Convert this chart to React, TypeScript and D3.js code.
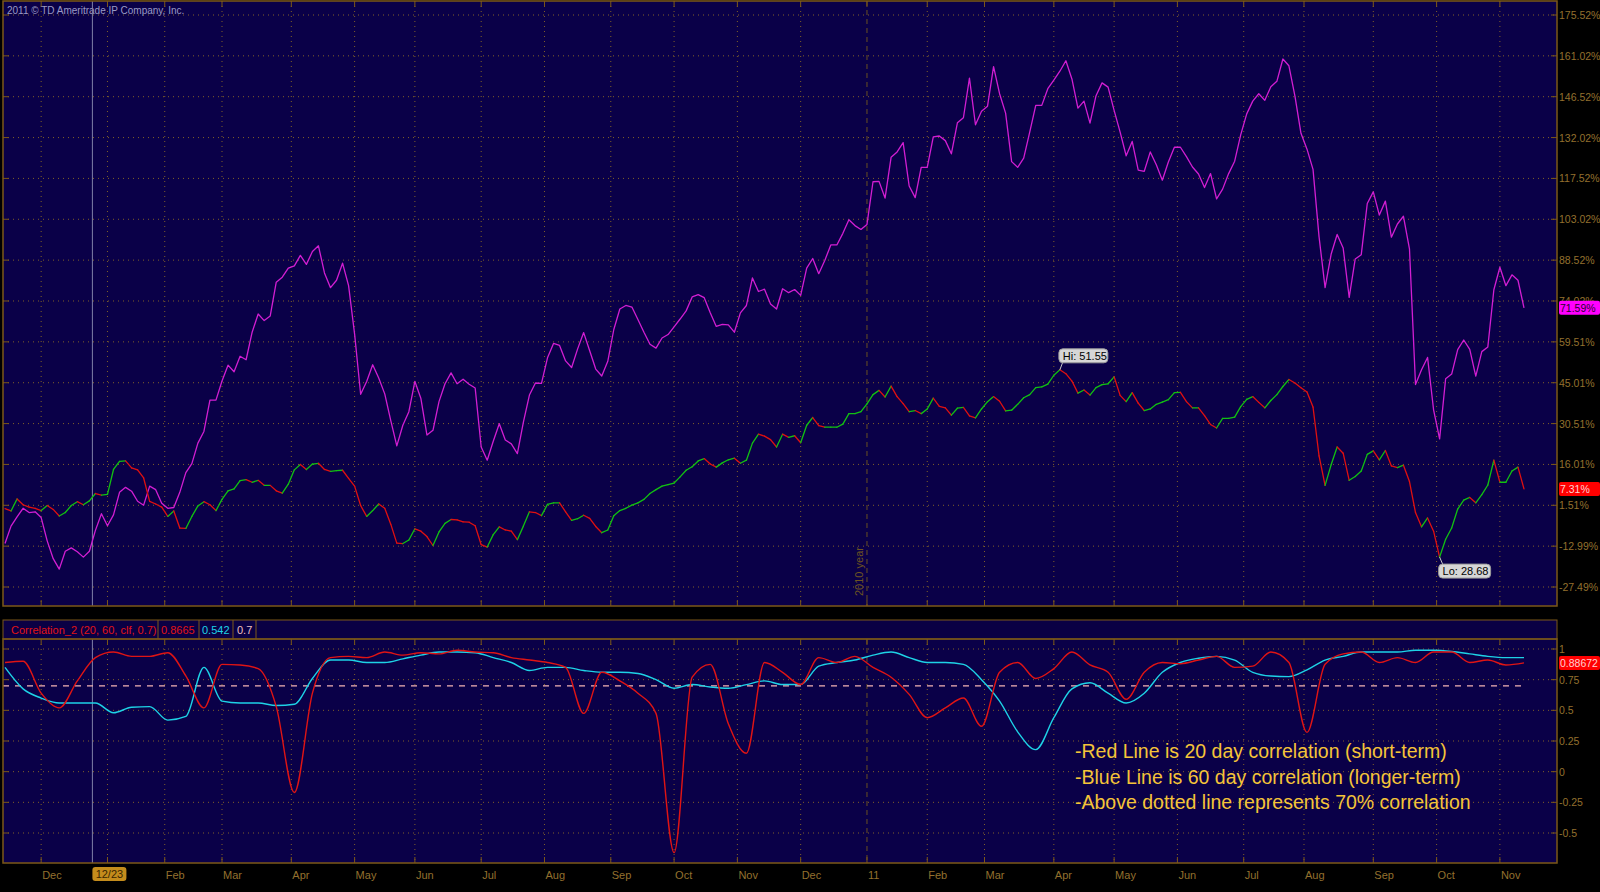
import * as d3 from "d3"

// trading calendar (NYSE holidays inside the window)
const firstSession = "2009-11-12"
const holidays = [
  "2009-11-26", "2009-12-25", "2010-01-01", "2010-01-18", "2010-02-15", "2010-04-02",
  "2010-05-31", "2010-07-05", "2010-09-06", "2010-11-25", "2010-12-24", "2011-01-17",
  "2011-02-21", "2011-04-22", "2011-05-30", "2011-07-04", "2011-09-05", "2011-11-24",
]
const cursorDate = "2009-12-23"
const yearMark = "2011-01-03"

// readings every 2 sessions, % change from first session
const priceStep = 2
const magentaPct = [
  -12.07, -5.88, -2.58, 0.45, -1.06, -0.79, -2.85, -11.11, -17.44, -21.16,
  -14.82, -13.59, -14.96, -16.89, -14.82, -7.39, -1.47, -5.74, -1.89, 6.1,
  7.88, 6.51, 2.93, 1.55, 8.3, 7.06, 2.24, 0.45, 0.73, 6.1,
  13.11, 16.28, 23.57, 27.7, 38.85, 38.85, 45.6, 51.24, 48.9, 54.4,
  53.16, 62.94, 69.4, 67.07, 68.72, 80.69, 82.48, 85.65, 86.47, 90.19,
  87.02, 91.56, 93.6, 83.99, 78.76, 81.38, 87.43, 79.45, 62.25, 40.92,
  45.46, 51.38, 46.7, 41.05, 31.56, 22.61, 29.91, 34.72, 45.46, 39.4,
  26.46, 28.12, 38.3, 44.63, 48.49, 44.63, 46.28, 44.49, 43.12, 22.2,
  17.52, 24.26, 30.46, 24.68, 23.3, 19.86, 31.01, 40.64, 44.91, 44.77,
  53.85, 58.95, 58.26, 52.75, 50.41, 57.02, 62.8, 56.33, 49.86, 47.38,
  52.61, 63.9, 71.19, 72.43, 71.88, 67.48, 62.94, 58.67, 57.29, 60.87,
  62.11, 64.86, 67.62, 70.51, 75.46, 76.29, 75.19, 69.82, 65.0, 65.69,
  65.55, 62.94, 69.82, 72.43, 82.2, 77.39, 78.21, 72.98, 71.19, 78.35,
  76.97, 78.08, 76.01, 85.65, 89.09, 83.72, 88.4, 93.9, 93.9, 98.03,
  102.85, 100.78, 99.41, 101.2, 116.34, 116.47, 110.56, 125.01, 126.93, 130.24,
  114.82, 110.69, 121.43, 121.43, 132.3, 132.58, 130.93, 126.25, 137.26, 139.05,
  153.09, 136.57, 141.39, 143.17, 157.21, 147.58, 140.7, 123.49, 121.43, 124.73,
  133.95, 143.45, 143.45, 149.37, 152.4, 155.56, 159.3, 152.81, 142.49, 144.96,
  137.12, 146.89, 151.43, 149.92, 141.66, 133.95, 125.56, 130.65, 120.47, 120.05,
  126.93, 122.39, 116.89, 123.36, 128.59, 128.59, 125.28, 121.57, 119.09, 114.27,
  119.23, 110.28, 113.72, 119.23, 123.63, 132.99, 140.42, 144.96, 147.58, 145.24,
  150.06, 151.98, 159.9, 157.5, 146.75, 133.54, 127.9, 120.74, 96.79, 78.77,
  90.6, 97.62, 92.8, 75.32, 88.95, 90.46, 108.63, 112.76, 104.5, 109.46,
  96.66, 101.34, 104.09, 92.53, 44.36, 49.59, 53.99, 35.41, 25.09, 46.42,
  48.07, 56.74, 60.18, 56.88, 47.38, 56.05, 57.71, 78.0, 86.0, 79.45,
  83.31, 81.38, 71.59,
]
const tradedPct = [
  0.31, -0.51, 3.76, 1.7, 0.87, 0.45, -0.37, 1.42, 0.04, -2.3,
  -1.06, 1.42, 2.79, 1.7, 3.07, 5.69, 5.14, 5.41, 14.22, 17.11,
  17.25, 14.77, 14.08, 11.2, 2.93, 1.97, 0.87, -2.44, -0.51, -6.56,
  -6.7, -2.44, 1.28, 2.79, 1.7, -0.37, 3.62, 6.66, 7.34, 10.23,
  10.64, 9.68, 10.37, 8.58, 8.58, 6.66, 5.82, 8.99, 14.08, 16.01,
  14.22, 16.15, 16.42, 14.22, 13.53, 13.81, 13.95, 11.06, 8.3, 1.42,
  -2.44, -0.37, 1.97, 0.45, -5.19, -11.93, -12.07, -10.83, -6.84, -7.67,
  -9.59, -12.76, -7.94, -4.91, -3.54, -3.67, -4.36, -4.5, -5.74, -12.48,
  -13.31, -8.9, -6.15, -7.25, -7.67, -10.69, -5.88, -0.79, -1.06, -2.16,
  1.83, 2.38, 2.38, -0.79, -3.81, -3.26, -2.02, -3.12, -6.01, -8.22,
  -7.25, -2.16, -0.37, 0.45, 1.56, 2.38, 3.62, 5.69, 7.07, 8.3,
  8.85, 9.41, 11.61, 13.95, 15.18, 17.25, 18.08, 16.15, 15.05, 16.56,
  17.66, 18.21, 16.42, 17.52, 23.57, 26.74, 26.05, 24.81, 22.2, 26.74,
  25.64, 26.19, 23.71, 29.91, 32.66, 29.77, 29.22, 29.22, 29.22, 30.32,
  34.04, 34.04, 34.72, 37.48, 40.78, 42.29, 39.95, 43.81, 40.09, 37.61,
  34.72, 35.14, 34.04, 35.69, 39.54, 36.65, 36.1, 33.49, 35.96, 36.24,
  33.21, 32.52, 35.69, 38.3, 40.09, 38.44, 35.0, 35.27, 37.34, 39.68,
  40.78, 43.26, 43.53, 44.49, 47.66, 49.59, 48.21, 45.6, 41.33, 42.43,
  40.64, 43.26, 44.36, 44.63, 47.11, 40.51, 38.3, 41.47, 37.75, 35.14,
  35.69, 37.34, 38.16, 38.99, 41.47, 41.61, 38.3, 36.1, 36.1, 33.35,
  30.18, 28.94, 32.38, 32.38, 32.8, 36.51, 39.13, 40.09, 38.03, 36.1,
  38.71, 40.78, 43.67, 46.15, 44.91, 43.26, 41.74, 36.38, 19.04, 8.58,
  15.87, 22.2, 20.0, 10.37, 11.75, 13.67, 19.58, 20.82, 17.66, 20.96,
  15.46, 14.91, 15.73, 9.95, -1.06, -6.15, -2.99, -7.67, -16.88, -10.56,
  -6.56, 0.18, 3.35, 4.31, 2.38, 5.27, 8.71, 17.52, 9.68, 9.68,
  13.67, 15.05, 7.31,
]
const hiLabel = "Hi: 51.55"
const loLabel = "Lo: 28.68"

// correlation study, readings every 6 sessions
const corrStep = 6
const corr20 = [
  0.89, 0.9, 0.64, 0.52, 0.74, 0.93, 0.975, 0.94, 0.94, 0.97,
  0.78, 0.52, 0.875, 0.87, 0.84, 0.53, -0.17, 0.64, 0.93, 0.94,
  0.93, 0.975, 0.95, 0.97, 0.96, 0.99, 0.975, 0.97, 0.93, 0.91,
  0.89, 0.85, 0.475, 0.81, 0.74, 0.64, 0.475, -0.66, 0.77, 0.875,
  0.39, 0.15, 0.89, 0.81, 0.71, 0.93, 0.89, 0.94, 0.85, 0.77,
  0.63, 0.44, 0.52, 0.6, 0.37, 0.81, 0.89, 0.76, 0.84, 0.975,
  0.87, 0.81, 0.59, 0.81, 0.89, 0.88, 0.91, 0.94, 0.85, 0.86,
  0.975, 0.89, 0.32, 0.875, 0.96, 0.975, 0.89, 0.93, 0.89, 0.975,
  0.975, 0.89, 0.91, 0.87, 0.8867,
]
const corr60 = [
  0.85, 0.675, 0.6, 0.56, 0.56, 0.56, 0.48, 0.525, 0.53, 0.42,
  0.45, 0.85, 0.575, 0.56, 0.56, 0.54, 0.55, 0.76, 0.91, 0.91,
  0.89, 0.89, 0.92, 0.95, 0.975, 0.975, 0.97, 0.93, 0.89, 0.825,
  0.85, 0.85, 0.825, 0.81, 0.81, 0.8, 0.75, 0.68, 0.71, 0.69,
  0.68, 0.71, 0.74, 0.71, 0.71, 0.86, 0.89, 0.91, 0.95, 0.975,
  0.93, 0.89, 0.89, 0.875, 0.75, 0.575, 0.325, 0.18, 0.44, 0.675,
  0.725, 0.64, 0.56, 0.64, 0.81, 0.89, 0.925, 0.94, 0.91, 0.81,
  0.78, 0.775, 0.83, 0.91, 0.94, 0.975, 0.975, 0.975, 0.99, 0.99,
  0.98, 0.96, 0.94, 0.93, 0.93,
]
const lastCorrLabel = "0.88672"
const corrThreshold = 0.7
const studyTitle = "Correlation_2 (20, 60, clf, 0.7)"
const studyValues = ["0.8665", "0.542", "0.7"]

const pctTicks = [175.52, 161.02, 146.52, 132.02, 117.52, 103.02, 88.52, 74.02, 59.51, 45.01, 30.51, 16.01, 1.51, -12.99, -27.49]
const corrTicks = [1, 0.75, 0.5, 0.25, 0, -0.25, -0.5]
const monthNames = ["Jan", "Feb", "Mar", "Apr", "May", "Jun", "Jul", "Aug", "Sep", "Oct", "Nov", "Dec"]

const notes = [
  "-Red Line is 20 day correlation (short-term)",
  "-Blue Line is 60 day correlation (longer-term)",
  "-Above dotted line represents 70% correlation",
]
const copyright = "2011 \u00a9 TD Ameritrade IP Company, Inc."

function sessions(count: number) {
  const out: string[] = []
  const d = new Date(firstSession + "T00:00:00Z")
  while (out.length < count) {
    const iso = d.toISOString().slice(0, 10)
    const dow = d.getUTCDay()
    if (dow !== 0 && dow !== 6 && !holidays.includes(iso)) out.push(iso)
    d.setUTCDate(d.getUTCDate() + 1)
  }
  return out
}

const W = 1600
const H = 892
const BG = "#0a0048"
const EDGE = "#7c5818"
const GRID = "#80602a"
const AXIS_TXT = "#93702e"
const FONT = "'Liberation Sans', Arial, sans-serif"

export default function App() {
  const days = sessions(520)
  const lastIdx = (magentaPct.length - 1) * priceStep

  const x = d3.scaleLinear().domain([0, lastIdx]).range([5, 1524])
  const panel = { left: 3, right: 1557 }
  const top = { y0: 1, y1: 606 }
  const low = { head0: 620, y0: 639, y1: 863 }
  const yP = d3.scaleLinear().domain([-27.49, 175.52]).range([587, 15])
  const yC = d3.scaleLinear().domain([-0.5, 1]).range([833, 649])

  // month boundaries
  const months: { i: number; label: string }[] = []
  for (let i = 1; i < days.length; i++) {
    const a = days[i - 1].slice(5, 7)
    const b = days[i].slice(5, 7)
    if (a !== b) {
      const m = +b - 1
      const yr = days[i].slice(2, 4)
      months.push({ i, label: m === 0 ? yr : monthNames[m] })
    }
  }
  const visMonths = months.filter((m) => x(m.i) > panel.left && x(m.i) < panel.right)
  const cursorI = days.indexOf(cursorDate)
  const yearI = days.indexOf(yearMark)
  // the crosshair sits on the right edge of the hovered bar
  const cx = x(cursorI + 1)

  const priceLine = d3
    .line<number>()
    .x((_, k) => x(k * priceStep))
    .y((v) => yP(v))
  const corrLine = d3
    .line<number>()
    .x((_, k) => x(k * corrStep))
    .y((v) => yC(v))
    .curve(d3.curveMonotoneX)

  const hiK = d3.maxIndex(tradedPct)
  const loK = d3.minIndex(tradedPct)
  const hx = x(hiK * priceStep)
  const hy = yP(tradedPct[hiK])
  const lx = x(loK * priceStep)
  const ly = yP(tradedPct[loK])

  const lastMag = magentaPct[magentaPct.length - 1]
  const lastTr = tradedPct[tradedPct.length - 1]
  const lastC = corr20[corr20.length - 1]

  const hGrid = (ticks: number[], s: (v: number) => number, key: string) =>
    ticks.map((t) => (
      <g key={key + t}>
        <line x1={panel.left} x2={panel.right} y1={s(t)} y2={s(t)} stroke={GRID} strokeDasharray="1,4" />
        <line x1={panel.left} x2={panel.left + 6} y1={s(t)} y2={s(t)} stroke={EDGE} />
        <line x1={panel.right - 6} x2={panel.right} y1={s(t)} y2={s(t)} stroke={EDGE} />
      </g>
    ))

  const vGrid = (y0: number, y1: number, key: string) =>
    visMonths.map((m) => (
      <g key={key + m.i}>
        <line
          x1={x(m.i)}
          x2={x(m.i)}
          y1={y0}
          y2={y1}
          stroke={m.i === yearI ? "#6a5020" : GRID}
          strokeDasharray={m.i === yearI ? "5,4" : "1,4"}
        />
        <line x1={x(m.i)} x2={x(m.i)} y1={y0} y2={y0 + 6} stroke={EDGE} />
        <line x1={x(m.i)} x2={x(m.i)} y1={y1 - 6} y2={y1} stroke={EDGE} />
      </g>
    ))

  const valueBox = (yv: number, fill: string, color: string, text: string) => (
    <g>
      <rect x={1559} y={yv - 7} width={41} height={14} rx={2} fill={fill} />
      <text x={1560} y={yv + 4} fontSize={10.5} fill={color} fontFamily={FONT}>
        {text}
      </text>
    </g>
  )

  const sepX = [158, 199, 233, 256]

  return (
    <div style={{ width: W, height: H, background: "#000" }}>
      <style>{"body{margin:0;background:#000}"}</style>
      <svg width={W} height={H} style={{ display: "block" }}>
        <rect width={W} height={H} fill="#000" />

        {/* upper panel */}
        <rect x={panel.left} y={top.y0} width={panel.right - panel.left} height={top.y1 - top.y0} fill={BG} />
        {hGrid(pctTicks, yP, "p")}
        {vGrid(top.y0, top.y1, "pv")}
        <text x={7} y={14} fontSize={10} fill="#9a9ac4" fontFamily={FONT}>
          {copyright}
        </text>
        <text
          transform={`translate(${x(yearI) - 4},${596}) rotate(-90)`}
          fontSize={11}
          fill="#6e5422"
          fontFamily={FONT}
        >
          2010 year
        </text>
        <line x1={cx} x2={cx} y1={top.y0} y2={top.y1} stroke="#8080a8" strokeWidth={1} />

        <path d={priceLine(magentaPct) ?? ""} fill="none" stroke="#d21ed2" strokeWidth={1.3} strokeLinejoin="round" />
        {tradedPct.slice(1).map((v, k) => (
          <line
            key={"tr" + k}
            x1={x(k * priceStep)}
            y1={yP(tradedPct[k])}
            x2={x((k + 1) * priceStep)}
            y2={yP(v)}
            stroke={v >= tradedPct[k] ? "#12c012" : "#e01010"}
            strokeWidth={1.3}
            strokeLinecap="round"
          />
        ))}

        {/* hi / lo bubbles */}
        <line x1={hx} y1={hy} x2={hx + 3} y2={hy - 8} stroke="#c8c8c8" />
        <rect x={hx - 1} y={hy - 21} width={49} height={14} rx={4} fill="#d6d6d6" stroke="#9a9a9a" />
        <text x={hx + 3} y={hy - 10} fontSize={11} fill="#000" fontFamily={FONT}>
          {hiLabel}
        </text>
        <line x1={lx} y1={ly} x2={lx + 3} y2={ly + 7} stroke="#c8c8c8" />
        <rect x={lx - 1} y={ly + 7} width={52} height={14} rx={4} fill="#d6d6d6" stroke="#9a9a9a" />
        <text x={lx + 3} y={ly + 18} fontSize={11} fill="#000" fontFamily={FONT}>
          {loLabel}
        </text>

        <rect x={panel.left} y={top.y0} width={panel.right - panel.left} height={top.y1 - top.y0} fill="none" stroke={EDGE} strokeWidth={1.5} />
        {pctTicks.map((t) => (
          <text key={"pl" + t} x={1559} y={yP(t) + 4} fontSize={10.5} fill={AXIS_TXT} fontFamily={FONT}>
            {t.toFixed(2) + "%"}
          </text>
        ))}
        {valueBox(yP(lastMag), "#ff00ff", "#2a0030", lastMag.toFixed(2) + "%")}
        {valueBox(yP(lastTr), "#ff0000", "#ffd0d0", lastTr.toFixed(2) + "%")}

        {/* lower panel */}
        <rect x={panel.left} y={low.head0} width={panel.right - panel.left} height={low.y1 - low.head0} fill={BG} />
        {hGrid(corrTicks, yC, "c")}
        {vGrid(low.y0, low.y1, "cv")}
        <line x1={cx} x2={cx} y1={low.y0} y2={low.y1} stroke="#8080a8" strokeWidth={1} />
        <line
          x1={panel.left}
          x2={x(lastIdx)}
          y1={yC(corrThreshold)}
          y2={yC(corrThreshold)}
          stroke="#f4b4b4"
          strokeWidth={1.3}
          strokeDasharray="6,6"
        />
        <path d={corrLine(corr60) ?? ""} fill="none" stroke="#1ed2e6" strokeWidth={1.4} />
        <path d={corrLine(corr20) ?? ""} fill="none" stroke="#e01414" strokeWidth={1.4} />

        {notes.map((n, k) => (
          <text key={n} x={1075} y={758 + k * 25.5} fontSize={19.5} fill="#f5c438" fontFamily={FONT}>
            {n}
          </text>
        ))}

        <rect x={panel.left} y={low.head0} width={panel.right - panel.left} height={low.y0 - low.head0} fill="#0a0044" stroke={EDGE} strokeWidth={1} />
        {sepX.map((s) => (
          <line key={"sep" + s} x1={s} x2={s} y1={low.head0} y2={low.y0} stroke={EDGE} />
        ))}
        <text x={11} y={634} fontSize={11} fill="#e01414" fontFamily={FONT}>
          {studyTitle}
        </text>
        <text x={161} y={634} fontSize={11} fill="#e01414" fontFamily={FONT}>
          {studyValues[0]}
        </text>
        <text x={202} y={634} fontSize={11} fill="#1ed2e6" fontFamily={FONT}>
          {studyValues[1]}
        </text>
        <text x={237} y={634} fontSize={11} fill="#f0c0c0" fontFamily={FONT}>
          {studyValues[2]}
        </text>
        <rect x={panel.left} y={low.y0} width={panel.right - panel.left} height={low.y1 - low.y0} fill="none" stroke={EDGE} strokeWidth={1.5} />
        {corrTicks.map((t) => (
          <text key={"cl" + t} x={1559} y={yC(t) + 4} fontSize={10.5} fill={AXIS_TXT} fontFamily={FONT}>
            {String(t)}
          </text>
        ))}
        {valueBox(yC(lastC), "#ff0000", "#ffd0d0", lastCorrLabel)}

        {/* time axis */}
        {visMonths
          .filter((m) => Math.abs(m.i - cursorI) > 8)
          .map((m) => (
            <text key={"ml" + m.i} x={x(m.i) + 1} y={879} fontSize={11} fill={AXIS_TXT} fontFamily={FONT}>
              {m.label}
            </text>
          ))}
        <rect x={cx} y={867} width={34} height={14} rx={3} fill="#c48c1c" />
        <text x={cx + 17} y={878} fontSize={11} fill="#3a2600" textAnchor="middle" fontFamily={FONT}>
          {cursorDate.slice(5, 7) + "/" + cursorDate.slice(8, 10)}
        </text>
      </svg>
    </div>
  )
}
